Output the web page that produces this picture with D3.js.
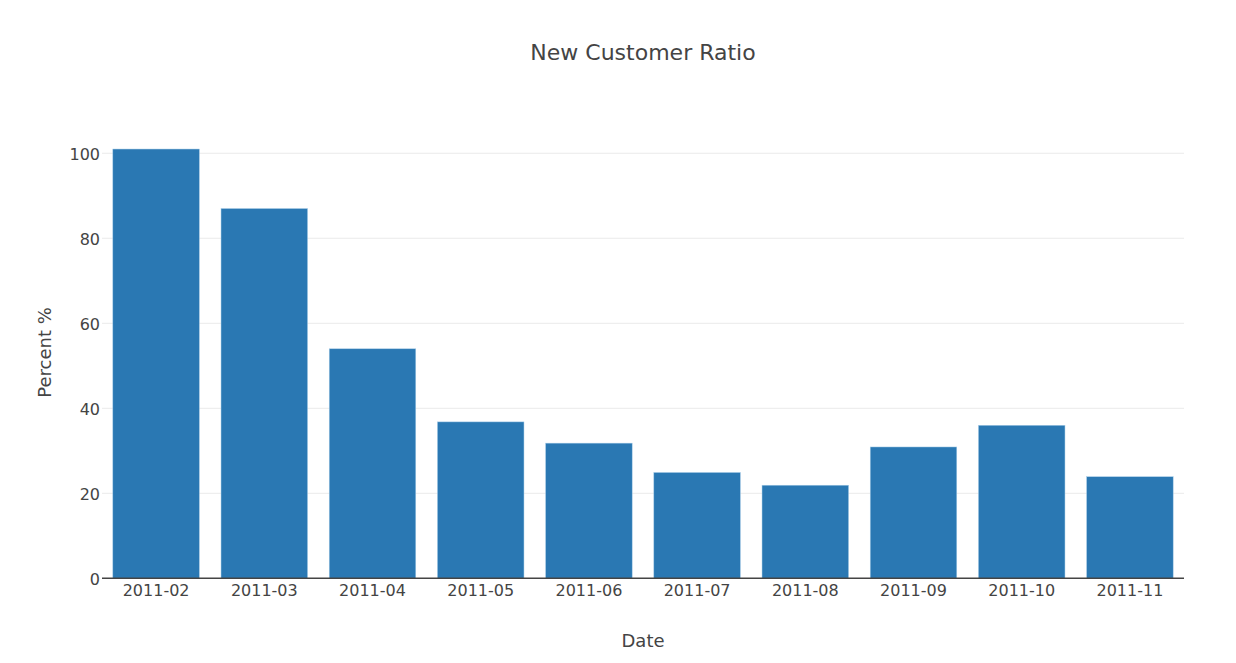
<!DOCTYPE html>
<html lang="en">
  <head>
    <meta charset="utf-8">
    <title>New Customer Ratio</title>
    <script type="text/javascript" src="https://d3js.org/d3.v7.min.js"></script>
    <style type="text/css">
      body { margin: 0; background: #ffffff; }
      svg { display: block; }
      text { font-family: "DejaVu Sans", sans-serif; fill: #444444; }
      .title { font-size: 22px; }
      .axisTitle { font-size: 18px; }
      .tick text { font-size: 16px; fill: #444444; }
      .grid line { stroke: #eaeaea; }
    </style>
  </head>
  <body>
    <script type="text/javascript">

    // data
    const months = ['2011-02', '2011-03', '2011-04', '2011-05', '2011-06',
                    '2011-07', '2011-08', '2011-09', '2011-10', '2011-11'];
    const ratios = [101, 87, 54, 36.8, 31.8, 24.9, 21.9, 30.9, 36, 23.9];
    const yTicks = [0, 20, 40, 60, 80, 100];

    // layout
    const width = 1236;
    const height = 663;
    const margin = { top: 126.5, right: 52, bottom: 84.7, left: 102 };

    const svg = d3.select('body')
      .append('svg')
      .attr('width', width)
      .attr('height', height);

    // scales
    const xScale = d3.scaleBand()
      .domain(months)
      .range([margin.left, width - margin.right])
      .paddingInner(0.2)
      .paddingOuter(0.1);

    const yScale = d3.scaleLinear()
      .domain([0, 106.3])
      .range([height - margin.bottom, margin.top]);

    // gridlines
    svg.append('g')
      .attr('class', 'grid')
      .selectAll('line')
      .data(yTicks.filter(d => d > 0))
      .join('line')
      .attr('x1', margin.left)
      .attr('x2', width - margin.right)
      .attr('y1', d => yScale(d))
      .attr('y2', d => yScale(d));

    // bars
    svg.append('g')
      .selectAll('rect')
      .data(months)
      .join('rect')
      .attr('x', d => xScale(d))
      .attr('width', xScale.bandwidth())
      .attr('y', (d, i) => yScale(ratios[i]))
      .attr('height', (d, i) => yScale(0) - yScale(ratios[i]))
      .attr('fill', '#2a78b3')
      .attr('stroke', '#a9cde8')
      .attr('stroke-width', 0.5);

    // zero line
    svg.append('line')
      .attr('x1', margin.left)
      .attr('x2', width - margin.right)
      .attr('y1', yScale(0))
      .attr('y2', yScale(0))
      .attr('stroke', '#444444')
      .attr('stroke-width', 1.5);

    // y axis
    const yAxis = svg.append('g')
      .attr('transform', 'translate(' + margin.left + ',0)')
      .call(d3.axisLeft(yScale).tickValues(yTicks).tickSize(0).tickPadding(2));
    yAxis.select('.domain').remove();
    yAxis.selectAll('.tick text').attr('dy', '0.36em');

    // x axis
    const xAxis = svg.append('g')
      .attr('transform', 'translate(0,' + yScale(0) + ')')
      .call(d3.axisBottom(xScale).tickSize(0).tickPadding(6));
    xAxis.select('.domain').remove();

    // titles
    svg.append('text')
      .attr('class', 'title')
      .attr('x', 643)
      .attr('y', 60)
      .attr('text-anchor', 'middle')
      .text('New Customer Ratio');

    svg.append('text')
      .attr('class', 'axisTitle')
      .attr('x', 643)
      .attr('y', 647)
      .attr('text-anchor', 'middle')
      .text('Date');

    svg.append('text')
      .attr('class', 'axisTitle')
      .attr('transform', 'translate(51,' + ((margin.top + height - margin.bottom) / 2) + ') rotate(-90)')
      .attr('text-anchor', 'middle')
      .text('Percent %');

    </script>
  </body>
</html>
